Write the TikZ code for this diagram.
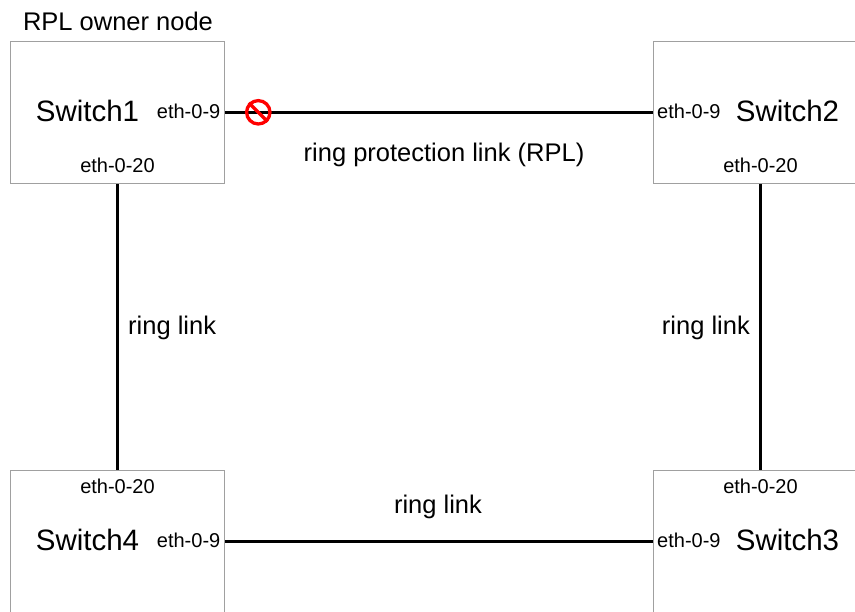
\documentclass[tikz,border=0pt]{standalone}
\usepackage{fontspec}
\setmainfont{Liberation Sans}
\usepackage{tikz}
\usetikzlibrary{positioning}
\definecolor{boxgray}{HTML}{A0A0A0}
\definecolor{blockred}{HTML}{FF0000}
\tikzstyle{switch} = [rectangle, draw=boxgray, line width=1pt, minimum width=214pt, minimum height=142pt, inner sep=0pt]
\tikzstyle{swname} = [font=\fontsize{29.5}{30}\selectfont, inner sep=0pt, anchor=base]
\tikzstyle{port} = [font=\fontsize{20}{20}\selectfont, inner sep=0pt]
\tikzstyle{lbl} = [font=\fontsize{25.5}{26}\selectfont, inner sep=0pt]
\tikzstyle{link} = [line width=2.7pt]

\begin{document}
\begin{tikzpicture}[x=1pt,y=-1pt]
			\useasboundingbox (0,0) rectangle (855,612);
			\clip (0,0) rectangle (855,612);
			% switches
			\node[switch] (sw1) at (117.8,112.8) {};
			\node[switch] (sw2) at (760.5,112.8) {};
			\node[switch] (sw3) at (760.5,541.8) {};
			\node[switch] (sw4) at (117.8,541.8) {};
			\node[swname] (name1) at (87.5,121.7) {Switch1};
			\node[swname] (name2) at (787.5,121.7) {Switch2};
			\node[swname] (name3) at (787.5,550.4) {Switch3};
			\node[swname] (name4) at (87.5,550.4) {Switch4};
			\node[lbl, anchor=base] (owner) at (118,30.5) {RPL owner node};
			% ports
			\node[port, anchor=base east] (p1a) at (220.5,118.3) {eth-0-9};
			\node[port, anchor=base] (p1b) at (117.5,172.7) {eth-0-20};
			\node[port, anchor=base west] (p2a) at (657,118.3) {eth-0-9};
			\node[port, anchor=base] (p2b) at (760.5,172.7) {eth-0-20};
			\node[port, anchor=base west] (p3a) at (657,547.3) {eth-0-9};
			\node[port, anchor=base] (p3b) at (760.5,493.7) {eth-0-20};
			\node[port, anchor=base east] (p4a) at (220.5,547.3) {eth-0-9};
			\node[port, anchor=base] (p4b) at (117.5,493.7) {eth-0-20};
			% links
			\draw[link] (sw1.east) -- (sw2.west);
			\draw[link] (sw1.south) -- (sw4.north);
			\draw[link] (sw2.south) -- (sw3.north);
			\draw[link] (sw4.east) -- (sw3.west);
			\node[lbl, anchor=base] (rpl) at (444,162) {ring protection link (RPL)};
			\node[lbl, anchor=base west] (linkl) at (128,335) {ring link};
			\node[lbl, anchor=base east] (linkr) at (750,335) {ring link};
			\node[lbl, anchor=base] (linkb) at (438,514) {ring link};
			% blocked port
			\node[circle, draw=blockred, line width=3.3pt, minimum size=23.4pt, inner sep=0pt] (blk) at (258.3,112.3) {};
			\draw[blockred, line width=3.3pt] (blk.north west) -- (blk.south east);
		\end{tikzpicture}
\end{document}
